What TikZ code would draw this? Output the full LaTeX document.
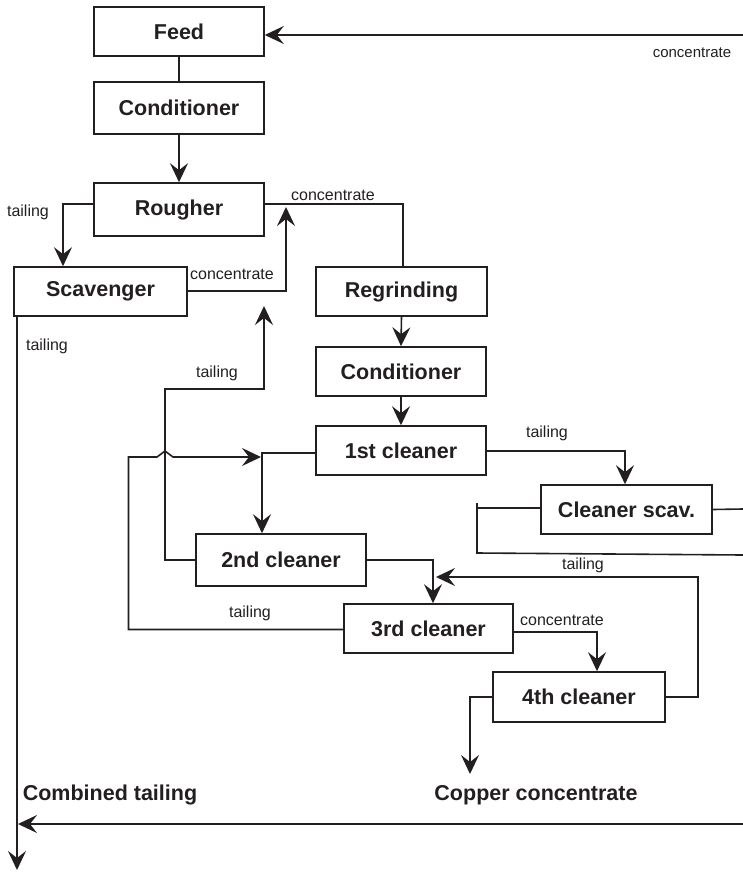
\documentclass[tikz,border=0pt]{standalone}
\usepackage{fontspec}
\setmainfont{Liberation Sans}
\usetikzlibrary{arrows.meta}
\definecolor{ink}{HTML}{231F20}
\begin{document}
\begin{tikzpicture}[x=1pt,y=-1pt,
  line width=1.6pt, draw=ink, text=ink,
  box/.style={draw=ink, line width=1.6pt, minimum width=170pt, minimum height=49pt,
    inner sep=0pt, font=\fontsize{21.5}{24}\selectfont\bfseries},
  lab/.style={inner sep=0pt, font=\fontsize{16}{18}\selectfont},
  biglab/.style={inner sep=0pt, font=\fontsize{21.5}{24}\selectfont\bfseries},
  arr/.style={-{Stealth[length=19pt,width=18pt,inset=7pt]}}]
\useasboundingbox (0,0) rectangle (743,873);

% boxes
\node[box] (feed) at (179,31.5) {Feed};
\node[box, minimum height=52pt] (cond1) at (179,108) {Conditioner};
\node[box, minimum height=53pt] (rougher) at (179,209.5) {Rougher};
\node[box, minimum width=173pt] (scav) at (100.5,291.5) {Scavenger};
\node[box, minimum width=171pt] (regr) at (401.5,291.5) {Regrinding};
\node[box] (cond2) at (401,371.5) {Conditioner};
\node[box] (c1) at (401,450.5) {1st cleaner};
\node[box, minimum width=171pt] (cscav) at (626.5,509.5) {Cleaner scav.};
\node[box, minimum height=52pt] (c2) at (281,560) {2nd cleaner};
\node[box, minimum width=169pt] (c3) at (428.5,628.5) {3rd cleaner};
\node[box, minimum width=172pt, minimum height=50pt] (c4) at (579,697) {4th cleaner};

% coordinates
\coordinate (fr) at (743,35);
\coordinate (rt) at (63,204);
\coordinate (rc) at (403,204);
\coordinate (sc) at (286,291);
\coordinate (sctip) at (286,207);
\coordinate (st) at (17,870);
\coordinate (c1t) at (625,451);
\coordinate (csr) at (743,509);
\coordinate (csl) at (477,508);
\coordinate (cstop) at (477,503);
\coordinate (csbot) at (477,553);
\coordinate (csend) at (743,555);
\coordinate (c1c) at (262,453);
\coordinate (t3a) at (128.5,629.5);
\coordinate (t3b) at (128.5,457);
\coordinate (h1) at (157,457);
\coordinate (h2) at (165,451);
\coordinate (h3) at (173,457);
\coordinate (t3tip) at (261,457);
\coordinate (t2a) at (165,560);
\coordinate (t2b) at (165,389);
\coordinate (t2c) at (264,389);
\coordinate (t2tip) at (264,306);
\coordinate (c2c) at (433,560);
\coordinate (t4a) at (698,697);
\coordinate (t4b) at (698,577);
\coordinate (t4tip) at (436,577);
\coordinate (c3c) at (597,632);
\coordinate (c4c) at (470,697);
\coordinate (c4tip) at (470,774);
\coordinate (bs) at (743,824);
\coordinate (btip) at (18,824);

% connectors
\draw (feed.south) -- (cond1.north);
\draw[arr] (cond1.south) -- (rougher.north);
\draw[arr] (fr) -- (fr -| feed.east);
\draw[arr] (rt -| rougher.west) -- (rt) -- (rt |- scav.north);
\draw (rc -| rougher.east) -- (rc) -- (rc |- regr.north);
\draw[arr] (scav.east |- sc) -- (sc) -- (sctip);
\draw[arr] (st |- scav.south) -- (st);
\draw[arr] (regr.south) -- (cond2.north);
\draw[arr] (cond2.south) -- (c1.north);
\draw[arr] (c1t -| c1.east) -- (c1t) -- (c1t |- cscav.north);
\draw (cscav.east) -- (csr);
\draw (csl -| cscav.west) -- (csl);
\draw (cstop) -- (csbot) -- (csend);
\draw[arr] (c1c -| c1.west) -- (c1c) -- (c1c |- c2.north);
\draw[arr] (c3.west |- t3a) -- (t3a) -- (t3b) -- (h1) -- (h2) -- (h3) -- (t3tip);
\draw[arr] (c2.west) -- (t2a) -- (t2b) -- (t2c) -- (t2tip);
\draw[arr] (c2.east) -- (c2c) -- (c2c |- c3.north);
\draw[arr] (c4.east) -- (t4a) -- (t4b) -- (t4tip);
\draw[arr] (c3c -| c3.east) -- (c3c) -- (c3c |- c4.north);
\draw[arr] (c4.west) -- (c4c) -- (c4tip);
\draw[arr] (bs) -- (btip);

% labels
\node[lab, font=\fontsize{15}{17}\selectfont] (l1) at (692,53) {concentrate};
\node[lab] (l2) at (28,212) {tailing};
\node[lab] (l3) at (333,195) {concentrate};
\node[lab] (l4) at (232,274) {concentrate};
\node[lab] (l5) at (47,346) {tailing};
\node[lab] (l6) at (217,373) {tailing};
\node[lab] (l7) at (547,433) {tailing};
\node[lab] (l8) at (583,565) {tailing};
\node[lab] (l9) at (562,620) {concentrate};
\node[lab] (l10) at (250,613) {tailing};
\node[biglab] (l11) at (110,795) {Combined tailing};
\node[biglab] (l12) at (536,795) {Copper concentrate};
\end{tikzpicture}
\end{document}
